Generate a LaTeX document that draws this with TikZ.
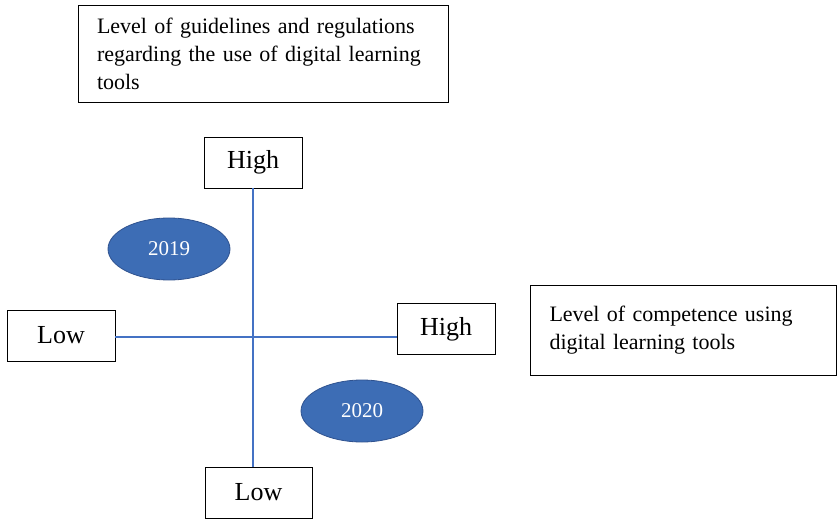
\documentclass[tikz,border=0pt]{standalone}
\usepackage{fontspec}
\setmainfont{Liberation Serif}
\usetikzlibrary{shapes.geometric}
\definecolor{axisblue}{HTML}{4472C4}
\definecolor{yearfill}{HTML}{3D6DB5}
\definecolor{yearedge}{HTML}{2F528F}
\begin{document}
\begin{tikzpicture}[x=1pt,y=1pt,
  textbox/.style={draw=black,line width=0.8pt,fill=white,align=left,
    inner xsep=19pt,inner ysep=0pt,font=\fontsize{22}{28}\selectfont},
  levelbox/.style={draw=black,line width=0.8pt,fill=white,minimum width=98pt,
    minimum height=51pt,inner sep=0pt,font=\fontsize{26}{30}\selectfont},
  yearoval/.style={ellipse,draw=yearedge,line width=0.8pt,fill=yearfill,
    minimum width=122pt,minimum height=62pt,inner sep=0pt,text=white,
    font=\fontsize{21}{24}\selectfont},
  axis/.style={draw=axisblue,line width=1.3pt}]
\useasboundingbox (0,0) rectangle (837,520);
% explanatory boxes
\node[textbox,text width=332pt,minimum height=97pt] (guide) at (263,466.5)
  {Level of guidelines and regulations regarding the use of digital learning tools};
\node[textbox,text width=268pt,minimum height=90pt] (comp) at (683.5,190)
  {Level of competence using digital learning tools};
% axis end labels
\node[levelbox] (highT) at (253,357.5) {High};
\node[levelbox,minimum width=107pt] (lowB) at (258.5,27.5) {Low};
\node[levelbox,minimum width=108pt] (lowL) at (61,184.5) {Low};
\node[levelbox] (highR) at (446,191) {High};
% axes
\coordinate (axisY) at (0,183);
\draw[axis] (highT.south) -- (highT.south |- lowB.north);
\draw[axis] (lowL.east |- axisY) -- (highR.west |- axisY);
% years
\node[yearoval] (y2019) at (169,271) {2019};
\node[yearoval] (y2020) at (362,109) {2020};
\end{tikzpicture}
\end{document}
